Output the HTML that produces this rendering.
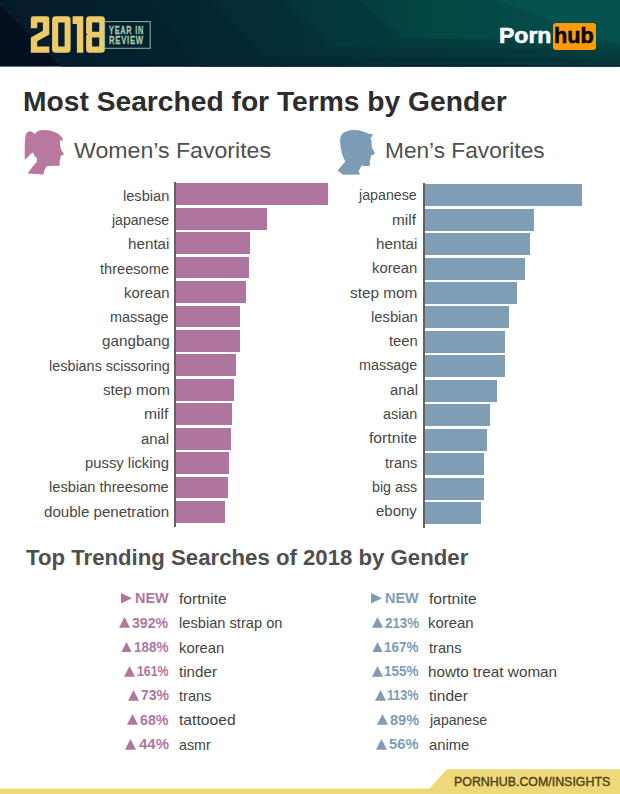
<!DOCTYPE html>
<html><head><meta charset="utf-8"><style>
html,body{margin:0;padding:0;background:#fff;}
body{width:620px;height:794px;position:relative;overflow:hidden;font-family:"Liberation Sans",sans-serif;}
.t{position:absolute;white-space:nowrap;transform-origin:0 0;}
.r{text-align:right;transform-origin:100% 0;}
.bar{position:absolute;}
</style></head><body>
<svg style="position:absolute;left:0;top:0" width="620" height="67" viewBox="0 0 620 67">
<defs>
<linearGradient id="g1" x1="0" y1="0" x2="620" y2="0" gradientUnits="userSpaceOnUse">
<stop offset="0" stop-color="#061a2a"/><stop offset="0.24" stop-color="#04212f"/><stop offset="1" stop-color="#042a33"/></linearGradient>
<linearGradient id="g2" x1="146" y1="0" x2="620" y2="0" gradientUnits="userSpaceOnUse">
<stop offset="0" stop-color="#042430"/><stop offset="0.19" stop-color="#042833"/><stop offset="0.65" stop-color="#033038"/><stop offset="1" stop-color="#043639"/></linearGradient>
<linearGradient id="g3" x1="212" y1="0" x2="620" y2="0" gradientUnits="userSpaceOnUse">
<stop offset="0" stop-color="#042c35"/><stop offset="1" stop-color="#053c3e"/></linearGradient>
<linearGradient id="g4" x1="283" y1="0" x2="620" y2="0" gradientUnits="userSpaceOnUse">
<stop offset="0" stop-color="#04343a"/><stop offset="1" stop-color="#044442"/></linearGradient>
<linearGradient id="g5" x1="359" y1="0" x2="620" y2="0" gradientUnits="userSpaceOnUse">
<stop offset="0" stop-color="#033f40"/><stop offset="0.35" stop-color="#044846"/><stop offset="1" stop-color="#044c4a"/></linearGradient>
</defs>
<rect width="620" height="66.5" fill="#060f20"/>
<polygon points="0,0 620,0 620,66.5 61,66.5 0,5" fill="url(#g1)"/>
<polygon points="146,0 620,0 620,66.5 201,66.5" fill="url(#g2)"/>
<polygon points="212,0 620,0 620,58 266,56" fill="url(#g3)"/>
<polygon points="283.6,0 620,0 620,50 332,47" fill="url(#g4)"/>
<polygon points="359,0 620,0 620,42 402,38" fill="url(#g5)"/>
<polygon points="495,0 620,0 620,45" fill="#03524f"/>
<rect y="65" width="620" height="1.5" fill="#000" opacity="0.25"/>
</svg>
<svg style="position:absolute;left:0;top:0" width="160" height="66" viewBox="0 0 160 66">
<g fill="#eecb68" fill-rule="evenodd">
<path d="M30.84,18.6 Q30.84,16.13 33.3,16.13 H46.8 Q49.3,16.13 49.3,18.6 V34.6 L37.23,41.3 V46.6 H49.3 V52.7 H30.84 V37.4 L42.9,30.7 V22.5 H37.23 V28.2 H30.84 Z"/>
<path d="M55.6,16.13 H67.1 Q70.6,16.13 70.6,19.6 V49.2 Q70.6,52.7 67.1,52.7 H55.6 Q52.1,52.7 52.1,49.2 V19.6 Q52.1,16.13 55.6,16.13 Z M58.2,22.5 V46.6 H64.6 V22.5 Z"/>
<path d="M72.6,16.13 H83.3 V52.7 H76.9 V23.9 H72.6 Z"/>
<path d="M89.6,16.13 H101.4 Q104.9,16.13 104.9,19.6 V33.5 L103.6,34.6 L104.9,35.7 V49.2 Q104.9,52.7 101.4,52.7 H89.6 Q86.1,52.7 86.1,49.2 V35.7 L87.4,34.6 L86.1,33.5 V19.6 Q86.1,16.13 89.6,16.13 Z M92.1,22.5 V31.7 H99.2 V22.5 Z M92.1,37.4 V46.6 H99.2 V37.4 Z"/>
</g>
<rect x="104.6" y="21.6" width="45.6" height="26.7" fill="none" stroke="#86ad98" stroke-width="1.1"/>
</svg>
<svg style="position:absolute;left:0;top:760px" width="620" height="34" viewBox="0 760 620 34">
<polygon points="0,788.5 429.7,788.5 446.6,769.2 620,769.2 620,794 0,794" fill="#efd87a"/>
</svg>
<div style="position:absolute;left:553.1px;top:23.3px;width:43px;height:26.6px;background:#fd9a04;border-radius:3px;z-index:0"></div>
<div class="t" style="left:123.16px;top:187.68px;font-size:15.5px;line-height:15.5px;font-weight:400;color:#474747;transform:scaleX(0.9426);">lesbian</div>
<div class="t" style="left:111.95px;top:211.98px;font-size:15.5px;line-height:15.5px;font-weight:400;color:#474747;transform:scaleX(0.9068);">japanese</div>
<div class="t" style="left:127.92px;top:236.28px;font-size:15.5px;line-height:15.5px;font-weight:400;color:#474747;transform:scaleX(0.9814);">hentai</div>
<div class="t" style="left:100.06px;top:260.58px;font-size:15.5px;line-height:15.5px;font-weight:400;color:#474747;transform:scaleX(0.9426);">threesome</div>
<div class="t" style="left:124.04px;top:284.88px;font-size:15.5px;line-height:15.5px;font-weight:400;color:#474747;transform:scaleX(0.9591);">korean</div>
<div class="t" style="left:110.37px;top:309.18px;font-size:15.5px;line-height:15.5px;font-weight:400;color:#474747;transform:scaleX(0.9322);">massage</div>
<div class="t" style="left:101.56px;top:333.48px;font-size:15.5px;line-height:15.5px;font-weight:400;color:#474747;transform:scaleX(0.9829);">gangbang</div>
<div class="t" style="left:48.57px;top:357.78px;font-size:15.5px;line-height:15.5px;font-weight:400;color:#474747;transform:scaleX(0.9289);">lesbians scissoring</div>
<div class="t" style="left:102.51px;top:382.08px;font-size:15.5px;line-height:15.5px;font-weight:400;color:#474747;transform:scaleX(0.9835);">step mom</div>
<div class="t" style="left:143.89px;top:406.38px;font-size:15.5px;line-height:15.5px;font-weight:400;color:#474747;transform:scaleX(1.0108);">milf</div>
<div class="t" style="left:141.28px;top:430.68px;font-size:15.5px;line-height:15.5px;font-weight:400;color:#474747;transform:scaleX(0.9600);">anal</div>
<div class="t" style="left:85.44px;top:454.98px;font-size:15.5px;line-height:15.5px;font-weight:400;color:#474747;transform:scaleX(0.9563);">pussy licking</div>
<div class="t" style="left:49.25px;top:479.28px;font-size:15.5px;line-height:15.5px;font-weight:400;color:#474747;transform:scaleX(0.9456);">lesbian threesome</div>
<div class="t" style="left:44.27px;top:503.58px;font-size:15.5px;line-height:15.5px;font-weight:400;color:#474747;transform:scaleX(0.9736);">double penetration</div>
<div class="t" style="left:359.36px;top:187.38px;font-size:15.5px;line-height:15.5px;font-weight:400;color:#474747;transform:scaleX(0.9179);">japanese</div>
<div class="t" style="left:392.41px;top:211.68px;font-size:15.5px;line-height:15.5px;font-weight:400;color:#474747;transform:scaleX(0.9935);">milf</div>
<div class="t" style="left:376.02px;top:235.98px;font-size:15.5px;line-height:15.5px;font-weight:400;color:#474747;transform:scaleX(0.9814);">hentai</div>
<div class="t" style="left:372.24px;top:260.28px;font-size:15.5px;line-height:15.5px;font-weight:400;color:#474747;transform:scaleX(0.9569);">korean</div>
<div class="t" style="left:350.21px;top:284.58px;font-size:15.5px;line-height:15.5px;font-weight:400;color:#474747;transform:scaleX(0.9895);">step mom</div>
<div class="t" style="left:370.75px;top:308.88px;font-size:15.5px;line-height:15.5px;font-weight:400;color:#474747;transform:scaleX(0.9532);">lesbian</div>
<div class="t" style="left:388.56px;top:333.18px;font-size:15.5px;line-height:15.5px;font-weight:400;color:#474747;transform:scaleX(0.9552);">teen</div>
<div class="t" style="left:358.77px;top:357.48px;font-size:15.5px;line-height:15.5px;font-weight:400;color:#474747;transform:scaleX(0.9273);">massage</div>
<div class="t" style="left:389.59px;top:381.78px;font-size:15.5px;line-height:15.5px;font-weight:400;color:#474747;transform:scaleX(0.9527);">anal</div>
<div class="t" style="left:383.21px;top:406.08px;font-size:15.5px;line-height:15.5px;font-weight:400;color:#474747;transform:scaleX(0.9248);">asian</div>
<div class="t" style="left:369.15px;top:430.38px;font-size:15.5px;line-height:15.5px;font-weight:400;color:#474747;transform:scaleX(1.0129);">fortnite</div>
<div class="t" style="left:384.76px;top:454.68px;font-size:15.5px;line-height:15.5px;font-weight:400;color:#474747;transform:scaleX(0.9403);">trans</div>
<div class="t" style="left:371.88px;top:478.98px;font-size:15.5px;line-height:15.5px;font-weight:400;color:#474747;transform:scaleX(0.9200);">big ass</div>
<div class="t" style="left:375.68px;top:503.28px;font-size:15.5px;line-height:15.5px;font-weight:400;color:#474747;transform:scaleX(0.9663);">ebony</div>
<div class="t" style="left:23.42px;top:88.47px;font-size:27.8px;line-height:27.8px;font-weight:700;color:#2d2d2d;transform:scaleX(1.0148);">Most Searched for Terms by Gender</div>
<div class="t" style="left:73.93px;top:140.43px;font-size:21.7px;line-height:21.7px;font-weight:400;color:#505050;transform:scaleX(1.0661);">Women’s Favorites</div>
<div class="t" style="left:384.77px;top:140.43px;font-size:21.7px;line-height:21.7px;font-weight:400;color:#505050;transform:scaleX(1.0453);">Men’s Favorites</div>
<div class="t" style="left:26.35px;top:547.21px;font-size:22.2px;line-height:22.2px;font-weight:700;color:#4f4f4f;transform:scaleX(1.0001);">Top Trending Searches of 2018 by Gender</div>
<div class="t" style="left:453.94px;top:775.67px;font-size:12.2px;line-height:12.2px;font-weight:400;color:#4a4014;transform:scaleX(1.0164);-webkit-text-stroke:0.35px #4a4014;">PORNHUB.COM/INSIGHTS</div>
<div class="t" style="left:498.92px;top:24.75px;font-size:22.5px;line-height:22.5px;font-weight:700;color:#ffffff;transform:scaleX(1.0224);-webkit-text-stroke:0.6px #ffffff;">Porn</div>
<div class="t" style="left:554.10px;top:24.75px;font-size:22.5px;line-height:22.5px;font-weight:700;color:#000000;transform:scaleX(0.9605);-webkit-text-stroke:0.5px #000000;">hub</div>
<div class="t" style="left:109.00px;top:24.86px;font-size:10.8px;line-height:10.8px;font-weight:700;color:#a3c7ae;transform:scaleX(0.6883);-webkit-text-stroke:0.3px #a3c7ae;letter-spacing:1px;">YEAR IN</div>
<div class="t" style="left:108.64px;top:35.06px;font-size:10.8px;line-height:10.8px;font-weight:700;color:#a3c7ae;transform:scaleX(0.7153);-webkit-text-stroke:0.3px #a3c7ae;letter-spacing:1px;">REVIEW</div>
<svg style="position:absolute;left:20px;top:126px" width="50" height="52" viewBox="0 0 50 52">
<path fill="#b8789f" d="M6.05,8.06 Q7.5,5.3 9.68,5.24 Q12,5 13.3,6.85 L14.9,8.06 Q16.5,5.6 18.5,4.84 Q21,4 24.2,4.03 Q28,4 30.6,4.84 Q34,5.6 36.3,6.85 Q39,8 40.3,9.68 Q42.5,11.5 42.7,12.9 L42.7,15.7 L40.7,13.7 Q39.8,15 39.9,16.1 L40.3,20.2 Q40.8,23 41.9,25 Q43.5,27 44,28.2 L41.5,29.4 Q40.8,30 40.7,31 L40.3,33.1 L39.5,35.5 L39.9,38.7 Q39.5,39.6 37.9,39.9 Q32,39.5 26.6,40.3 Q25,42.5 24.2,45.2 L23.4,48.4 L7.66,47.6 L12.9,40.3 L16.9,35.5 L16.9,32.3 Q14,30 12.9,26.6 L11.3,27.4 L4.84,33.9 Q4.5,25 4.84,16.1 Q5,11 6.05,8.06 Z"/>
</svg>
<svg style="position:absolute;left:330px;top:126px" width="50" height="52" viewBox="0 0 50 52">
<path fill="#7d9cb6" d="M12.1,8.06 Q14,6 16.9,5.24 Q20,4 24.2,4.03 Q29,4 32.3,5.24 Q36,6.5 38.7,7.66 Q41,8.2 42.7,8.06 Q42.5,9.5 41.9,10.5 L40.7,12.1 Q41.4,14 41.5,16.1 L41.9,21.8 Q43.5,24.5 44.8,26.6 L44,28.6 L41.1,29.4 L40.7,31.5 L40.3,33.9 L39.5,35.5 L40.3,37.9 L39.5,39.9 L35.5,40.3 L31.5,39.5 L28.6,45.2 L30.2,48.4 L12.9,48.8 L7.66,44.4 L15.3,35.5 L14.1,33.1 Q12,29 11.3,24.2 Q10.2,20 10.1,16.1 Q10,13 10.5,11.3 Q11,9.3 12.1,8.06 Z"/>
</svg>
<div class="bar" style="left:174px;top:182px;width:1.7px;height:345px;background:#636263"></div>
<div class="bar" style="left:423.2px;top:183.2px;width:1.7px;height:344.4px;background:#636263"></div>
<div class="bar" style="left:176px;top:183.30px;width:151.80px;height:21.8px;background:#b0759e"></div>
<div class="bar" style="left:176px;top:207.75px;width:91.40px;height:21.8px;background:#b0759e"></div>
<div class="bar" style="left:176px;top:232.20px;width:73.80px;height:21.8px;background:#b0759e"></div>
<div class="bar" style="left:176px;top:256.65px;width:73.20px;height:21.8px;background:#b0759e"></div>
<div class="bar" style="left:176px;top:281.10px;width:70.00px;height:21.8px;background:#b0759e"></div>
<div class="bar" style="left:176px;top:305.55px;width:64.00px;height:21.8px;background:#b0759e"></div>
<div class="bar" style="left:176px;top:330.00px;width:64.00px;height:21.8px;background:#b0759e"></div>
<div class="bar" style="left:176px;top:354.45px;width:59.60px;height:21.8px;background:#b0759e"></div>
<div class="bar" style="left:176px;top:378.90px;width:57.80px;height:21.8px;background:#b0759e"></div>
<div class="bar" style="left:176px;top:403.35px;width:56.20px;height:21.8px;background:#b0759e"></div>
<div class="bar" style="left:176px;top:427.80px;width:54.90px;height:21.8px;background:#b0759e"></div>
<div class="bar" style="left:176px;top:452.25px;width:53.00px;height:21.8px;background:#b0759e"></div>
<div class="bar" style="left:176px;top:476.70px;width:51.70px;height:21.8px;background:#b0759e"></div>
<div class="bar" style="left:176px;top:501.15px;width:49.00px;height:21.8px;background:#b0759e"></div>
<div class="bar" style="left:425px;top:184.20px;width:156.80px;height:22px;background:#7f9db5"></div>
<div class="bar" style="left:425px;top:208.65px;width:109.00px;height:22px;background:#7f9db5"></div>
<div class="bar" style="left:425px;top:233.10px;width:105.10px;height:22px;background:#7f9db5"></div>
<div class="bar" style="left:425px;top:257.55px;width:99.80px;height:22px;background:#7f9db5"></div>
<div class="bar" style="left:425px;top:282.00px;width:91.90px;height:22px;background:#7f9db5"></div>
<div class="bar" style="left:425px;top:306.45px;width:83.70px;height:22px;background:#7f9db5"></div>
<div class="bar" style="left:425px;top:330.90px;width:80.30px;height:22px;background:#7f9db5"></div>
<div class="bar" style="left:425px;top:355.35px;width:79.70px;height:22px;background:#7f9db5"></div>
<div class="bar" style="left:425px;top:379.80px;width:72.00px;height:22px;background:#7f9db5"></div>
<div class="bar" style="left:425px;top:404.25px;width:64.70px;height:22px;background:#7f9db5"></div>
<div class="bar" style="left:425px;top:428.70px;width:61.50px;height:22px;background:#7f9db5"></div>
<div class="bar" style="left:425px;top:453.15px;width:58.80px;height:22px;background:#7f9db5"></div>
<div class="bar" style="left:425px;top:477.60px;width:58.80px;height:22px;background:#7f9db5"></div>
<div class="bar" style="left:425px;top:502.05px;width:56.00px;height:22px;background:#7f9db5"></div>
<svg style="position:absolute;left:121.00px;top:593.20px" width="11.2" height="10.5" viewBox="0 0 11.2 10.5"><polygon points="0,0 11.2,5.25 0,10.5" fill="#b0779e"/></svg>
<svg style="position:absolute;left:119.20px;top:617.37px" width="11" height="10.8" viewBox="0 0 11 10.8"><polygon points="5.5,0 11,10.8 0,10.8" fill="#b0779e"/></svg>
<svg style="position:absolute;left:121.30px;top:641.64px" width="11" height="10.8" viewBox="0 0 11 10.8"><polygon points="5.5,0 11,10.8 0,10.8" fill="#b0779e"/></svg>
<svg style="position:absolute;left:124.20px;top:665.91px" width="11" height="10.8" viewBox="0 0 11 10.8"><polygon points="5.5,0 11,10.8 0,10.8" fill="#b0779e"/></svg>
<svg style="position:absolute;left:127.70px;top:690.18px" width="11" height="10.8" viewBox="0 0 11 10.8"><polygon points="5.5,0 11,10.8 0,10.8" fill="#b0779e"/></svg>
<svg style="position:absolute;left:127.10px;top:714.45px" width="11" height="10.8" viewBox="0 0 11 10.8"><polygon points="5.5,0 11,10.8 0,10.8" fill="#b0779e"/></svg>
<svg style="position:absolute;left:125.40px;top:738.72px" width="11" height="10.8" viewBox="0 0 11 10.8"><polygon points="5.5,0 11,10.8 0,10.8" fill="#b0779e"/></svg>
<svg style="position:absolute;left:371.20px;top:593.20px" width="11.2" height="10.5" viewBox="0 0 11.2 10.5"><polygon points="0,0 11.2,5.25 0,10.5" fill="#7e9cb5"/></svg>
<svg style="position:absolute;left:371.50px;top:617.37px" width="11" height="10.8" viewBox="0 0 11 10.8"><polygon points="5.5,0 11,10.8 0,10.8" fill="#7e9cb5"/></svg>
<svg style="position:absolute;left:371.50px;top:641.64px" width="11" height="10.8" viewBox="0 0 11 10.8"><polygon points="5.5,0 11,10.8 0,10.8" fill="#7e9cb5"/></svg>
<svg style="position:absolute;left:371.50px;top:665.91px" width="11" height="10.8" viewBox="0 0 11 10.8"><polygon points="5.5,0 11,10.8 0,10.8" fill="#7e9cb5"/></svg>
<svg style="position:absolute;left:374.50px;top:690.18px" width="11" height="10.8" viewBox="0 0 11 10.8"><polygon points="5.5,0 11,10.8 0,10.8" fill="#7e9cb5"/></svg>
<svg style="position:absolute;left:376.60px;top:714.45px" width="11" height="10.8" viewBox="0 0 11 10.8"><polygon points="5.5,0 11,10.8 0,10.8" fill="#7e9cb5"/></svg>
<svg style="position:absolute;left:376.20px;top:738.72px" width="11" height="10.8" viewBox="0 0 11 10.8"><polygon points="5.5,0 11,10.8 0,10.8" fill="#7e9cb5"/></svg>
<div class="t" style="left:134.57px;top:590.38px;font-size:15.5px;line-height:15.5px;font-weight:700;color:#b0779e;transform:scaleX(0.9314);">NEW</div>
<div class="t" style="left:179.24px;top:591.00px;font-size:15px;line-height:15px;font-weight:400;color:#444444;transform:scaleX(1.0400);">fortnite</div>
<div class="t" style="left:132.24px;top:614.65px;font-size:15.5px;line-height:15.5px;font-weight:700;color:#b0779e;transform:scaleX(0.9135);">392%</div>
<div class="t" style="left:178.52px;top:615.27px;font-size:15px;line-height:15px;font-weight:400;color:#444444;transform:scaleX(0.9769);">lesbian strap on</div>
<div class="t" style="left:133.93px;top:638.92px;font-size:15.5px;line-height:15.5px;font-weight:700;color:#b0779e;transform:scaleX(0.8706);">188%</div>
<div class="t" style="left:178.51px;top:639.54px;font-size:15px;line-height:15px;font-weight:400;color:#444444;transform:scaleX(0.9874);">korean</div>
<div class="t" style="left:136.91px;top:663.19px;font-size:15.5px;line-height:15.5px;font-weight:700;color:#b0779e;transform:scaleX(0.7948);">161%</div>
<div class="t" style="left:179.25px;top:663.81px;font-size:15px;line-height:15px;font-weight:400;color:#444444;transform:scaleX(1.0108);">tinder</div>
<div class="t" style="left:140.52px;top:687.46px;font-size:15.5px;line-height:15.5px;font-weight:700;color:#b0779e;transform:scaleX(0.9042);">73%</div>
<div class="t" style="left:179.26px;top:688.08px;font-size:15px;line-height:15px;font-weight:400;color:#444444;transform:scaleX(0.9692);">trans</div>
<div class="t" style="left:140.14px;top:711.73px;font-size:15.5px;line-height:15.5px;font-weight:700;color:#b0779e;transform:scaleX(0.9167);">68%</div>
<div class="t" style="left:179.24px;top:712.35px;font-size:15px;line-height:15px;font-weight:400;color:#444444;transform:scaleX(1.0453);">tattooed</div>
<div class="t" style="left:138.66px;top:736.00px;font-size:15.5px;line-height:15.5px;font-weight:700;color:#b0779e;transform:scaleX(0.9653);">44%</div>
<div class="t" style="left:178.79px;top:736.62px;font-size:15px;line-height:15px;font-weight:400;color:#444444;transform:scaleX(0.9519);">asmr</div>
<div class="t" style="left:384.77px;top:590.38px;font-size:15.5px;line-height:15.5px;font-weight:700;color:#7e9cb5;transform:scaleX(0.9314);">NEW</div>
<div class="t" style="left:429.14px;top:591.00px;font-size:15px;line-height:15px;font-weight:400;color:#444444;transform:scaleX(1.0400);">fortnite</div>
<div class="t" style="left:384.57px;top:614.65px;font-size:15.5px;line-height:15.5px;font-weight:700;color:#7e9cb5;transform:scaleX(0.8594);">213%</div>
<div class="t" style="left:428.41px;top:615.27px;font-size:15px;line-height:15px;font-weight:400;color:#444444;transform:scaleX(0.9920);">korean</div>
<div class="t" style="left:384.13px;top:638.92px;font-size:15.5px;line-height:15.5px;font-weight:700;color:#7e9cb5;transform:scaleX(0.8706);">167%</div>
<div class="t" style="left:429.16px;top:639.54px;font-size:15px;line-height:15px;font-weight:400;color:#444444;transform:scaleX(0.9723);">trans</div>
<div class="t" style="left:384.13px;top:663.19px;font-size:15.5px;line-height:15.5px;font-weight:700;color:#7e9cb5;transform:scaleX(0.8706);">155%</div>
<div class="t" style="left:428.38px;top:663.81px;font-size:15px;line-height:15px;font-weight:400;color:#444444;transform:scaleX(1.0188);">howto treat woman</div>
<div class="t" style="left:387.19px;top:687.46px;font-size:15.5px;line-height:15.5px;font-weight:700;color:#7e9cb5;transform:scaleX(0.8134);">113%</div>
<div class="t" style="left:429.14px;top:688.08px;font-size:15px;line-height:15px;font-weight:400;color:#444444;transform:scaleX(1.0351);">tinder</div>
<div class="t" style="left:389.63px;top:711.73px;font-size:15.5px;line-height:15.5px;font-weight:700;color:#7e9cb5;transform:scaleX(0.9400);">89%</div>
<div class="t" style="left:429.63px;top:712.35px;font-size:15px;line-height:15px;font-weight:400;color:#444444;transform:scaleX(0.9355);">japanese</div>
<div class="t" style="left:389.22px;top:736.00px;font-size:15.5px;line-height:15.5px;font-weight:700;color:#7e9cb5;transform:scaleX(0.9533);">56%</div>
<div class="t" style="left:428.66px;top:736.62px;font-size:15px;line-height:15px;font-weight:400;color:#444444;transform:scaleX(0.9873);">anime</div>
</body></html>
